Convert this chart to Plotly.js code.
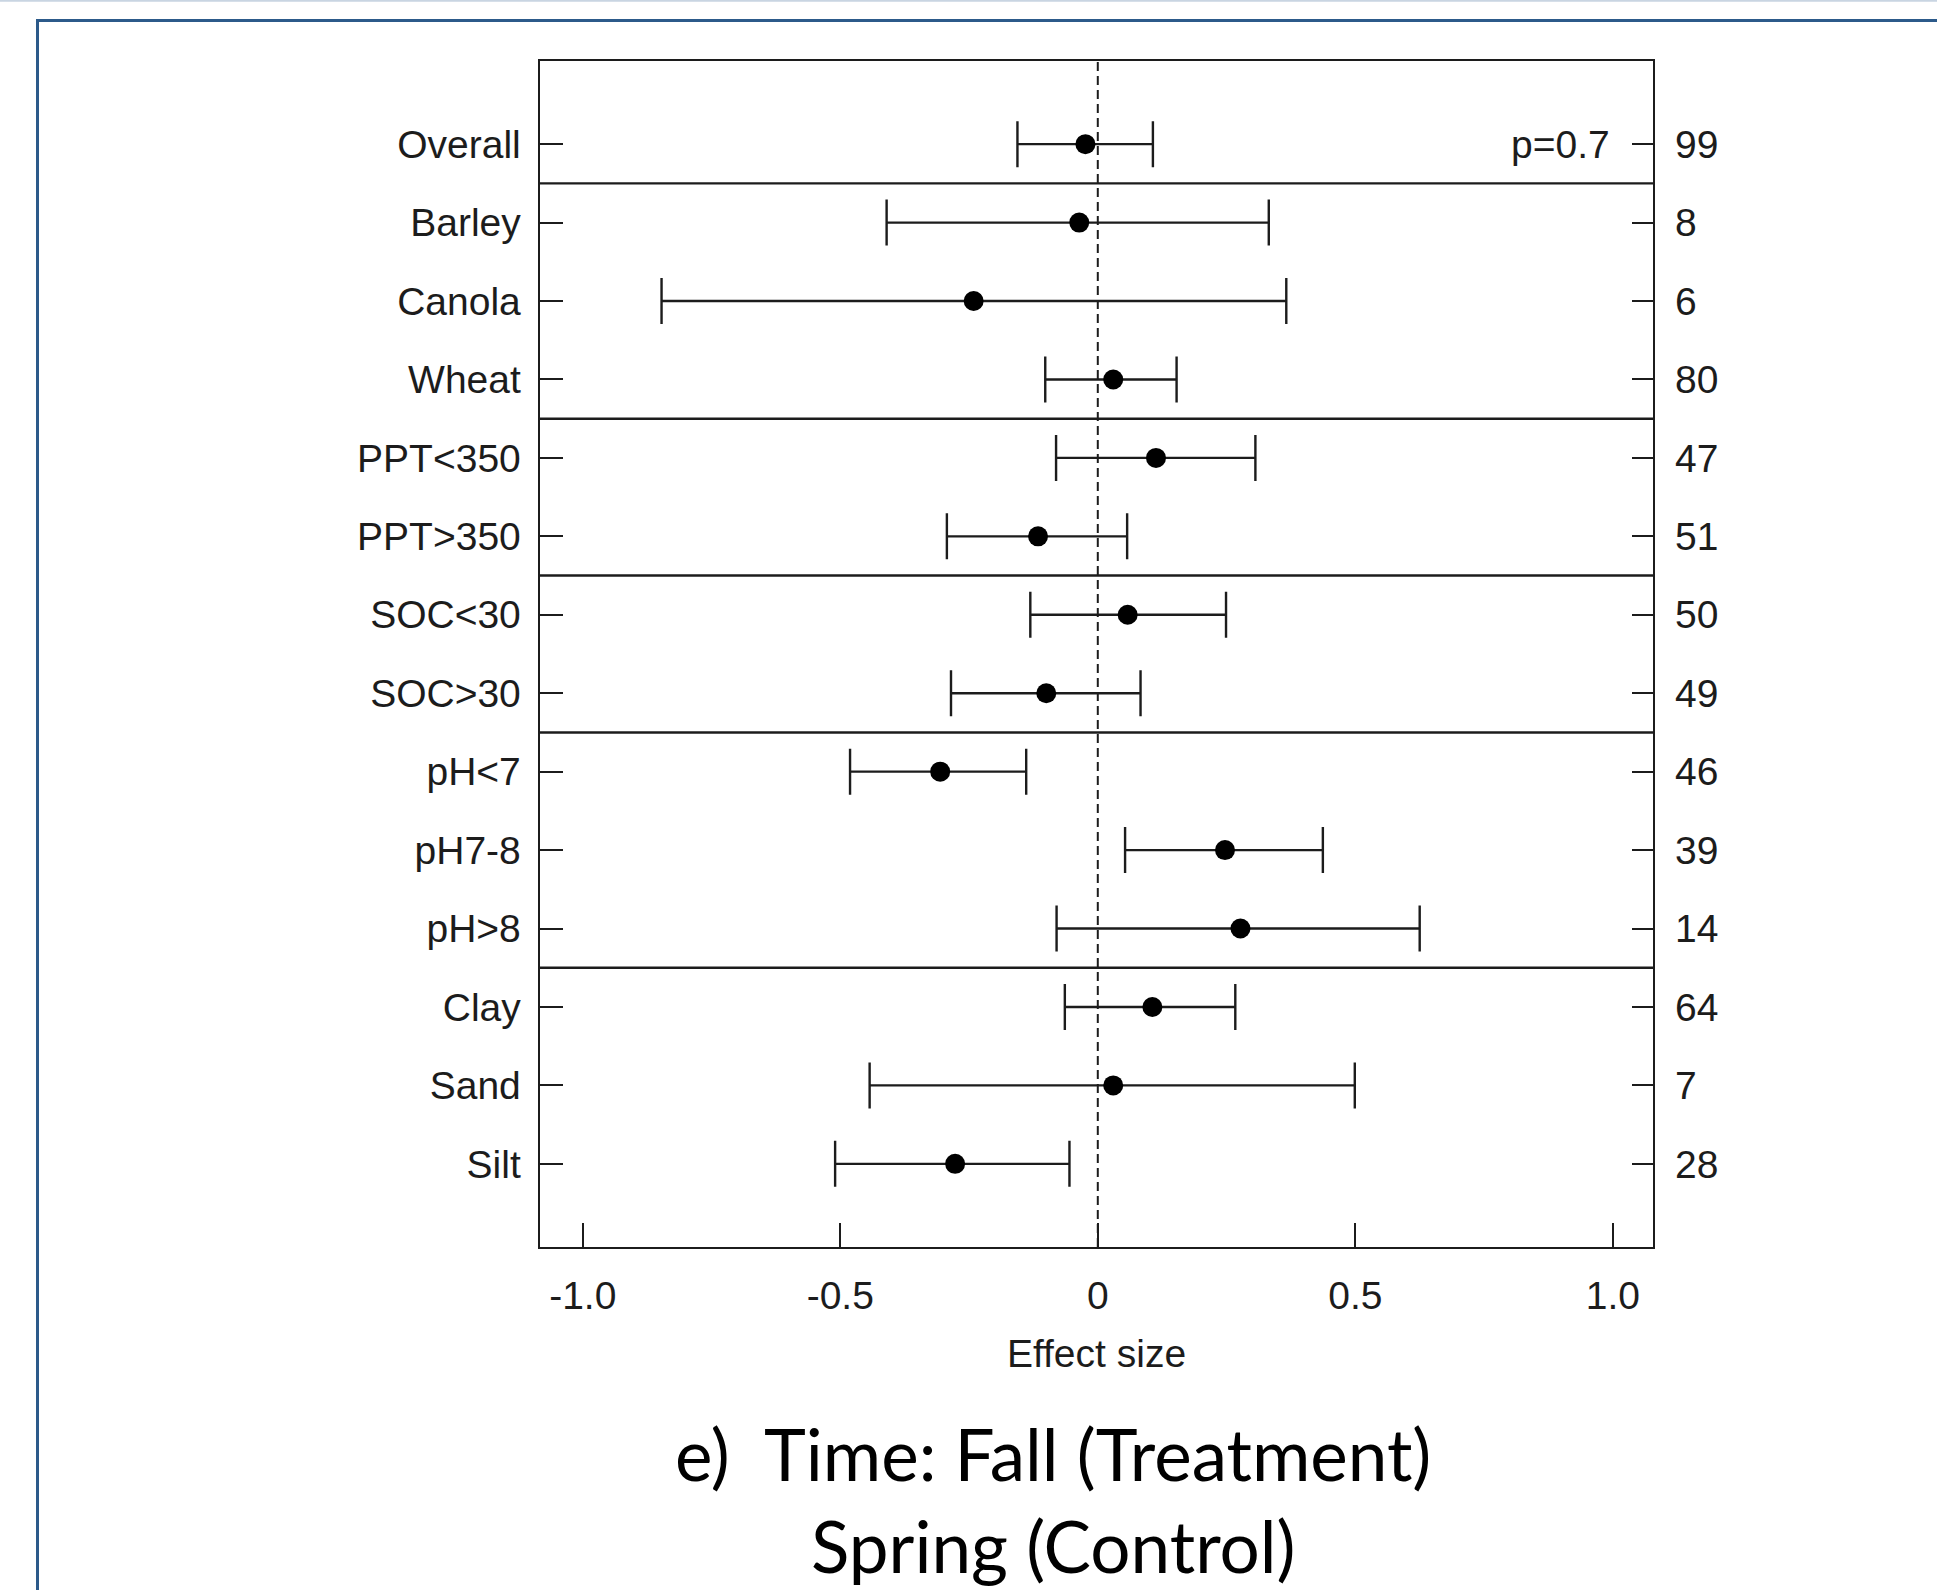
<!DOCTYPE html>
<html>
<head>
<meta charset="utf-8">
<script src="https://cdn.plot.ly/plotly-3.0.1.min.js"></script>
<style>
  html, body { margin: 0; padding: 0; background: #ffffff; }
  #chart { width: 1937px; height: 1590px; }
</style>
</head>
<body>
<div id="chart"></div>
<script>
// ---- data ----
var categories = ["Overall", "Barley", "Canola", "Wheat", "PPT<350", "PPT>350", "SOC<30", "SOC>30",
                  "pH<7", "pH7-8", "pH>8", "Clay", "Sand", "Silt"];
var groups = ["Overall", "Crop", "Crop", "Crop", "PPT", "PPT", "SOC", "SOC",
              "pH", "pH", "pH", "Texture", "Texture", "Texture"];
var effect = [-0.024, -0.036, -0.241, 0.030, 0.113, -0.116, 0.058, -0.100,
              -0.306, 0.247, 0.277, 0.106, 0.030, -0.277];
var lower  = [-0.156, -0.410, -0.847, -0.102, -0.081, -0.293, -0.131, -0.285,
              -0.481, 0.053, -0.080, -0.064, -0.443, -0.510];
var upper  = [0.107, 0.332, 0.366, 0.153, 0.306, 0.057, 0.249, 0.083,
              -0.139, 0.437, 0.625, 0.267, 0.499, -0.055];
var nObs   = [99, 8, 6, 80, 47, 51, 50, 49, 46, 39, 14, 64, 7, 28];
var xTickVals = [-1.0, -0.5, 0, 0.5, 1.0];
var xTickText = ["-1.0", "-0.5", "0", "0.5", "1.0"];
var pLabel = "p=0.7";
var xTitle = "Effect size";
var titleLine1 = "e)\u00a0 Time: Fall (Treatment)";
var titleLine2 = "Spring (Control)";

// ---- derived ----
var nRows = categories.length;
var rowY = categories.map(function (c, i) { return nRows - i; });
var errPlus = upper.map(function (u, i) { return u - effect[i]; });
var errMinus = lower.map(function (l, i) { return effect[i] - l; });
var esc = function (s) { return String(s).replace(/</g, "&lt;").replace(/>/g, "&gt;"); };

var W = 1937, H = 1590;
var M = { l: 540, r: 284, t: 61, b: 343 };
var PW = W - M.l - M.r, PH = H - M.t - M.b;
function px2paperX(px) { return (px - M.l) / PW; }
function px2paperY(py) { return (H - M.b - py) / PH; }

var ink = "#1c1c1c";
var axisFont = { family: "Liberation Sans, Arial, sans-serif", size: 39, color: ink };
var titleFont = { family: "Lato, Carlito, sans-serif", size: 71, color: "#000000" };

var traces = [
  {
    type: "scatter", mode: "markers",
    x: effect, y: rowY,
    marker: { color: "#000000", size: 20, symbol: "circle" },
    error_x: {
      type: "data", symmetric: false,
      array: errPlus, arrayminus: errMinus,
      color: ink, thickness: 2.4, width: 23
    },
    hoverinfo: "x+y", showlegend: false, cliponaxis: false
  },
  {
    type: "scatter", mode: "markers",
    x: effect, y: rowY, yaxis: "y2",
    marker: { opacity: 0, size: 1 },
    hoverinfo: "skip", showlegend: false
  }
];

// separator lines between groups
var shapes = [];
for (var i = 1; i < nRows; i++) {
  if (groups[i] !== groups[i - 1]) {
    var yb = (rowY[i] + rowY[i - 1]) / 2;
    shapes.push({ type: "line", xref: "paper", yref: "y", x0: 0, x1: 1, y0: yb, y1: yb,
                  line: { color: ink, width: 2.4 } });
  }
}
// reference line at zero effect
shapes.push({ type: "line", xref: "x", yref: "paper", x0: 0, x1: 0, y0: 0, y1: 1,
              line: { color: ink, width: 2, dash: "9px,5px" } });
// slide frame decoration
shapes.push({ type: "line", xref: "paper", yref: "paper",
              x0: px2paperX(0), x1: px2paperX(W), y0: px2paperY(0.8), y1: px2paperY(0.8),
              line: { color: "#c9d5e2", width: 2 } });
shapes.push({ type: "line", xref: "paper", yref: "paper",
              x0: px2paperX(36), x1: px2paperX(W), y0: px2paperY(20.5), y1: px2paperY(20.5),
              line: { color: "#2c5a8a", width: 3 } });
shapes.push({ type: "line", xref: "paper", yref: "paper",
              x0: px2paperX(37.5), x1: px2paperX(37.5), y0: px2paperY(19), y1: px2paperY(H),
              line: { color: "#2c5a8a", width: 3 } });

var annotations = [
  { text: pLabel, xref: "paper", yref: "y", x: px2paperX(1612), y: rowY[0] - 0.01,
    xanchor: "right", yanchor: "middle", showarrow: false, font: axisFont },
  { text: titleLine1, xref: "paper", yref: "paper", x: px2paperX(1053), y: px2paperY(1453),
    xanchor: "center", yanchor: "middle", showarrow: false, font: titleFont },
  { text: titleLine2, xref: "paper", yref: "paper", x: px2paperX(1053), y: px2paperY(1545),
    xanchor: "center", yanchor: "middle", showarrow: false, font: titleFont }
];

var yRange = [-0.06, nRows + 1.06];

var layout = {
  width: W, height: H,
  margin: M,
  paper_bgcolor: "#ffffff", plot_bgcolor: "#ffffff",
  font: axisFont,
  showlegend: false,
  xaxis: {
    range: [-1.083, 1.078],
    tickmode: "array", tickvals: xTickVals, ticktext: xTickText,
    ticks: "inside", ticklen: 24, tickwidth: 2, tickcolor: ink,
    ticklabelstandoff: 13,
    showline: true, linewidth: 2.4, linecolor: ink, mirror: true,
    showgrid: false, zeroline: false,
    tickfont: axisFont,
    title: { text: xTitle, font: axisFont, standoff: 24 }
  },
  yaxis: {
    range: yRange,
    tickmode: "array", tickvals: rowY, ticktext: categories.map(esc),
    ticks: "inside", ticklen: 23, tickwidth: 2, tickcolor: ink,
    ticklabelstandoff: 9,
    showline: true, linewidth: 2.4, linecolor: ink, mirror: true,
    showgrid: false, zeroline: false,
    tickfont: axisFont
  },
  yaxis2: {
    overlaying: "y", side: "right", anchor: "x",
    range: yRange,
    tickmode: "array", tickvals: rowY, ticktext: nObs.map(String),
    ticks: "inside", ticklen: 21, tickwidth: 2, tickcolor: ink,
    ticklabelstandoff: 21,
    showline: false, showgrid: false, zeroline: false,
    tickfont: axisFont
  },
  shapes: shapes,
  annotations: annotations
};

Plotly.newPlot("chart", traces, layout, { staticPlot: true, displayModeBar: false });
</script>
</body>
</html>
